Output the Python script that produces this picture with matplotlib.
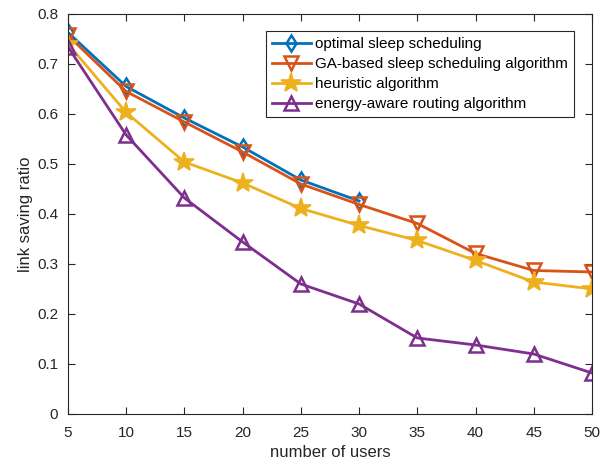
import numpy as np
import matplotlib.pyplot as plt

plt.rcParams['font.family'] = ['Liberation Sans', 'DejaVu Sans']

# number of users
users = [5, 10, 15, 20, 25, 30, 35, 40, 45, 50]
users_opt = [5, 10, 15, 20, 25, 30]

# link saving ratio for each scheme
optimal = [0.763, 0.655, 0.592, 0.534, 0.468, 0.426]
ga_based = [0.757, 0.645, 0.584, 0.524, 0.460, 0.419, 0.381, 0.321, 0.287, 0.284]
heuristic = [0.740, 0.603, 0.504, 0.462, 0.411, 0.377, 0.347, 0.307, 0.264, 0.250]
energy_aware = [0.734, 0.558, 0.432, 0.344, 0.260, 0.220, 0.152, 0.138, 0.120, 0.082]

labels = ['optimal sleep scheduling',
          'GA-based sleep scheduling algorithm',
          'heuristic algorithm',
          'energy-aware routing algorithm']

fig = plt.figure(figsize=(6.14, 4.69), dpi=100)
ax = fig.add_axes([0.1107, 0.1173, 0.8534, 0.8529])

ax.plot(users_opt, optimal, color='#0072BD', lw=2, marker='d', ms=8,
        mfc='none', mew=1.8, label=labels[0])
ax.plot(users, ga_based, color='#D95319', lw=2, marker='v', ms=9.5,
        mfc='none', mew=1.8, label=labels[1])
ax.plot(users, heuristic, color='#EDB120', lw=2, marker='*', ms=15,
        mfc='#EDB120', mew=1.2, label=labels[2])
ax.plot(users, energy_aware, color='#7E2F8E', lw=2, marker='^', ms=9.5,
        mfc='none', mew=1.8, label=labels[3])

ax.set_xlim(5, 50)
ax.set_ylim(0, 0.8)
ax.set_xticks(np.arange(5, 51, 5))
ax.set_yticks(np.arange(0, 0.81, 0.1))
ax.set_yticklabels(['0', '0.1', '0.2', '0.3', '0.4', '0.5', '0.6', '0.7', '0.8'])
ax.tick_params(direction='in', top=True, right=True, labelsize=11,
               colors='#262626', length=5)
ax.tick_params(axis='x', pad=9)
ax.tick_params(axis='y', pad=7)
for s in ax.spines.values():
    s.set_color('#262626')
    s.set_linewidth(0.8)

ax.set_xlabel('number of users', fontsize=12, color='#262626', labelpad=3)
ax.set_ylabel('link saving ratio', fontsize=12, color='#262626', labelpad=3)

leg = ax.legend(loc='upper right', bbox_to_anchor=(0.966, 0.958), fontsize=11,
                fancybox=False, edgecolor='#262626', framealpha=1,
                handlelength=2.5, handletextpad=0.3, borderpad=0.4,
                labelspacing=0.4, borderaxespad=0)
leg.get_frame().set_linewidth(0.8)

fig.savefig('out.png', dpi=100)
